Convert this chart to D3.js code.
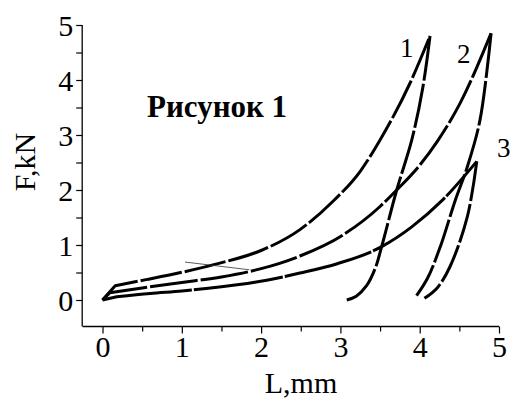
<!DOCTYPE html>
<html><head><meta charset="utf-8">
<script src="https://cdn.jsdelivr.net/npm/d3@7"></script>
<style>body{margin:0;background:#fff}svg{display:block}text{font-family:"Liberation Serif","Times New Roman",serif;fill:#000}</style>
</head><body><svg id="c" width="510" height="401"></svg>
<script>
// Data (L in mm, F in kN)
const curveNames = ["1", "2", "3"];
const load1X = [0, 0.16, 0.55, 1.02, 1.48, 2.0, 2.49, 2.91, 3.25, 3.50, 3.88, 4.13];
const load1Y = [0, 0.26, 0.37, 0.51, 0.67, 0.90, 1.28, 1.80, 2.34, 2.91, 3.95, 4.80];
const unload1X = [4.13, 4.04, 3.90, 3.71, 3.52, 3.44, 3.33, 3.20, 3.08];
const unload1Y = [4.80, 3.87, 2.91, 2.0, 0.97, 0.58, 0.26, 0.07, 0.0];
const load2X = [0, 0.09, 0.5, 1.0, 1.5, 2.0, 2.49, 3.03, 3.5, 3.71, 4.0, 4.22, 4.51, 4.90];
const load2Y = [0, 0.13, 0.22, 0.32, 0.42, 0.57, 0.80, 1.18, 1.70, 2.0, 2.45, 2.88, 3.58, 4.85];
const unload2X = [4.90, 4.76, 4.60, 4.45, 4.26, 4.10, 3.96];
const unload2Y = [4.85, 3.27, 2.42, 1.82, 0.97, 0.40, 0.08];
const load3X = [0, 0.18, 0.6, 1.0, 1.5, 2.07, 2.49, 2.96, 3.52, 3.9, 4.29, 4.72];
const load3Y = [0, 0.06, 0.12, 0.165, 0.24, 0.36, 0.49, 0.66, 0.97, 1.33, 1.82, 2.52];
const unload3X = [4.72, 4.60, 4.38, 4.22, 4.06];
const unload3Y = [2.52, 1.51, 0.60, 0.22, 0.03];
const strayX = [1.04, 1.85];
const strayY = [0.69, 0.55];
const xTicks = [0, 1, 2, 3, 4, 5];
const yTicks = [0, 1, 2, 3, 4, 5];
const title = "Рисунок 1";
const xLabel = "L,mm";
const yLabel = "F,kN";

const svg = d3.select("#c");
const x = d3.scaleLinear().domain([-0.25, 5]).range([82.7, 499]);
const y = d3.scaleLinear().domain([-0.5, 5]).range([327.5, 25]);

// axes
const xAxis = d3.axisBottom(x).tickValues(d3.range(0, 5.01, 0.5)).tickSize(6).tickFormat(d => xTicks.includes(d) ? d : "");
const gx = svg.append("g").attr("transform", `translate(0,${y(-0.5) - 1})`).call(xAxis);
gx.select(".domain").attr("d", `M${x(-0.25)},0H${x(5)}`).attr("stroke-width", 1.3);
gx.selectAll(".tick line").attr("stroke-width", 1.2).attr("y2", d => xTicks.includes(d) ? 7 : 5);
gx.selectAll(".tick text").attr("font-size", 30).attr("y", 9).attr("dy", "0.71em").style("font-family", '"Liberation Serif",serif');

const yAxis = d3.axisLeft(y).tickValues(d3.range(0, 5.01, 0.5)).tickSize(6).tickFormat(d => yTicks.includes(d) ? d : "");
const gy = svg.append("g").attr("transform", `translate(${x(-0.25) - 0.5},0)`).call(yAxis);
gy.select(".domain").attr("d", `M0,${y(-0.5) - 1}V${y(5)}`).attr("stroke-width", 1.3);
gy.selectAll(".tick line").attr("stroke-width", 1.2);
gy.selectAll(".tick text").attr("font-size", 30).attr("x", -9).attr("dy", "0.34em").style("font-family", '"Liberation Serif",serif');

// curves
const lineLin = d3.line().x(d => x(d[0])).y(d => y(d[1]));
const lineX = d3.line().x(d => x(d[0])).y(d => y(d[1])).curve(d3.curveMonotoneX);
const lineC = d3.line().x(d => x(d[0])).y(d => y(d[1])).curve(d3.curveCatmullRom.alpha(0.5));
function drawPath(d, dash) {
  svg.append("path").attr("d", d).attr("fill", "none").attr("stroke", "#000")
    .attr("stroke-width", 3).attr("stroke-linejoin", "round").attr("stroke-dasharray", dash);
}
const loads = [[load1X, load1Y, "42,3"], [load2X, load2Y, "48,3"], [load3X, load3Y, "90,2"]];
loads.forEach(([xs, ys, dash]) => {
  const pts = xs.map((v, i) => [v, ys[i]]);
  const d = lineLin(pts.slice(0, 2)) + lineX(pts.slice(1)).replace(/^M/, "L");
  drawPath(d, dash);
});
const unloads = [[unload1X, unload1Y, "45,3"], [unload2X, unload2Y, "45,3"], [unload3X, unload3Y, "40,3"]];
unloads.forEach(([xs, ys, dash]) => {
  drawPath(lineC(xs.map((v, i) => [v, ys[i]])), dash);
});
svg.append("path").datum(strayX.map((v, i) => [v, strayY[i]]))
  .attr("d", lineLin).attr("stroke", "#333").attr("stroke-width", 0.8).attr("fill", "none");

// curve labels
const labelPos = [[400, 57], [457, 63], [497, 157]];
curveNames.forEach((n, i) => {
  svg.append("text").attr("x", labelPos[i][0]).attr("y", labelPos[i][1]).attr("font-size", 27).text(n);
});

// title and axis labels
svg.append("text").attr("x", 147).attr("y", 117).attr("font-size", 31).attr("font-weight", "bold").text(title);
svg.append("text").attr("x", 301).attr("y", 393).attr("text-anchor", "middle").attr("font-size", 30).text(xLabel);
svg.append("text").attr("transform", "translate(35,162) rotate(-90)").attr("text-anchor", "middle").attr("font-size", 30).text(yLabel);
</script></body></html>
